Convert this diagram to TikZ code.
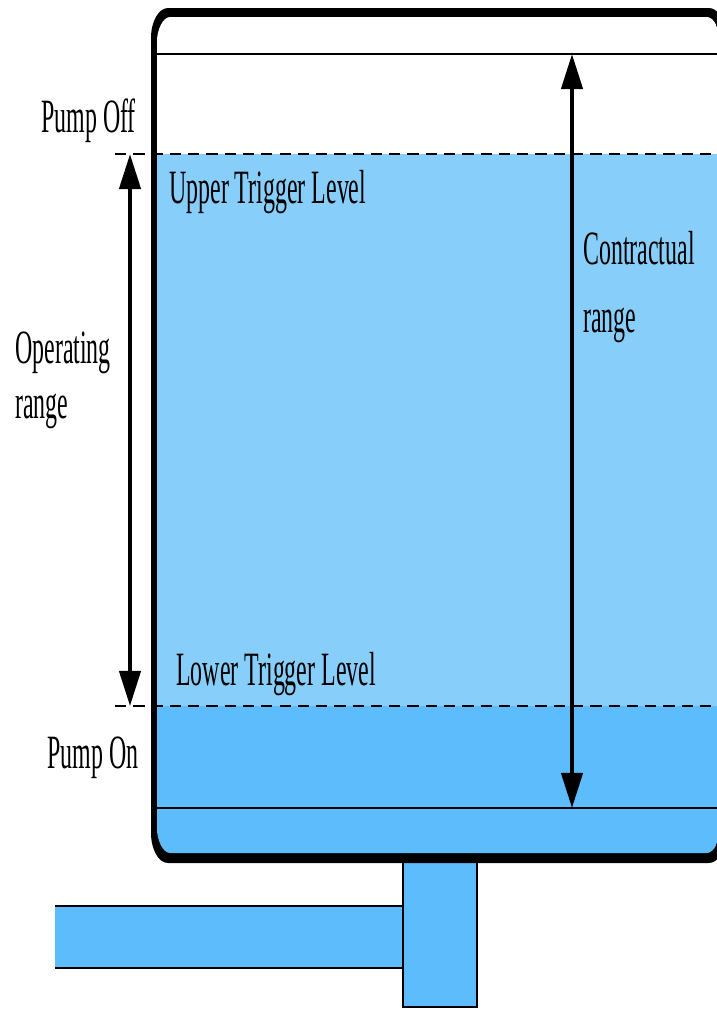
\documentclass[tikz,border=0pt]{standalone}
\usepackage{graphicx}
\usepackage{fontspec}
\setmainfont{Liberation Serif}
\usetikzlibrary{arrows.meta}

\definecolor{waterlight}{RGB}{135,206,250}
\definecolor{waterdark}{RGB}{92,188,252}

\newcommand{\tall}[1]{\scalebox{1}[2]{#1}}

\tikzset{
  label text/.style={anchor=base west, inner sep=0pt, font=\fontsize{17}{20}\selectfont},
  level line/.style={line width=1.4pt, dash pattern=on 8pt off 5pt},
  range arrow/.style={line width=3pt, {Triangle[length=25pt,width=15pt]}-{Triangle[length=25pt,width=15pt]}},
}

\begin{document}
\begin{tikzpicture}[x=0.025cm, y=-0.025cm]
        \useasboundingbox (0,0) rectangle (717,1009);
        \clip (0,0) rectangle (717,1009);

        % pipes
        \fill[waterdark] (55,906) rectangle (403,968);
        \draw[line width=1.4pt] (55,906) -- (403,906);
        \draw[line width=1.4pt] (55,968) -- (403,968);
        \draw[line width=1pt, fill=waterdark] (403,858) rectangle (477,1007);

        % tank wall
        \fill[black] (168,8) -- (709,8) .. controls (718.35,8) and (726,21.5) .. (726,38)
            -- (726,833) .. controls (726,849.5) and (718.35,863) .. (709,863)
            -- (168,863) .. controls (158.65,863) and (151,849.5) .. (151,833)
            -- (151,38) .. controls (151,21.5) and (158.65,8) .. (168,8) -- cycle;
        \begin{scope}
            \clip (170,17) -- (707,17) .. controls (714.15,17) and (720,30.2) .. (720,41)
                -- (720,829) .. controls (720,839.8) and (714.15,853) .. (707,853)
                -- (170,853) .. controls (162.85,853) and (157,839.8) .. (157,829)
                -- (157,41) .. controls (157,30.2) and (162.85,17) .. (170,17) -- cycle;
            \fill[white] (150,0) rectangle (730,154);
            \fill[waterlight] (150,154) rectangle (730,706);
            \fill[waterdark] (150,706) rectangle (730,870);
        \end{scope}

        % contractual limits
        \draw[line width=1.4pt] (157,54) -- (720,54);
        \draw[line width=1.4pt] (157,808) -- (720,808);

        % trigger levels
        \draw[level line] (115,154) -- (720,154);
        \draw[level line] (115,706) -- (720,706);

        % ranges
        \coordinate (opTop) at (130,154);
        \coordinate (opBot) at (130,706);
        \coordinate (contTop) at (572,54);
        \coordinate (contBot) at (572,808);
        \draw[range arrow] (opTop) -- (opBot);
        \draw[range arrow] (contTop) -- (contBot);

        % labels
        \node[label text] (pumpoff) at (41,132) {\tall{Pump Off}};
        \node[label text] (upper) at (169,203) {\tall{Upper Trigger Level}};
        \node[label text] (contr) at (583,264) {\tall{Contractual}};
        \node[label text] (contrb) at (583,332) {\tall{range}};
        \node[label text] (oper) at (15,363) {\tall{Operating}};
        \node[label text] (operb) at (15,418) {\tall{range}};
        \node[label text] (lower) at (176,685) {\tall{Lower Trigger Level}};
        \node[label text] (pumpon) at (47,768) {\tall{Pump On}};
    \end{tikzpicture}
\end{document}
